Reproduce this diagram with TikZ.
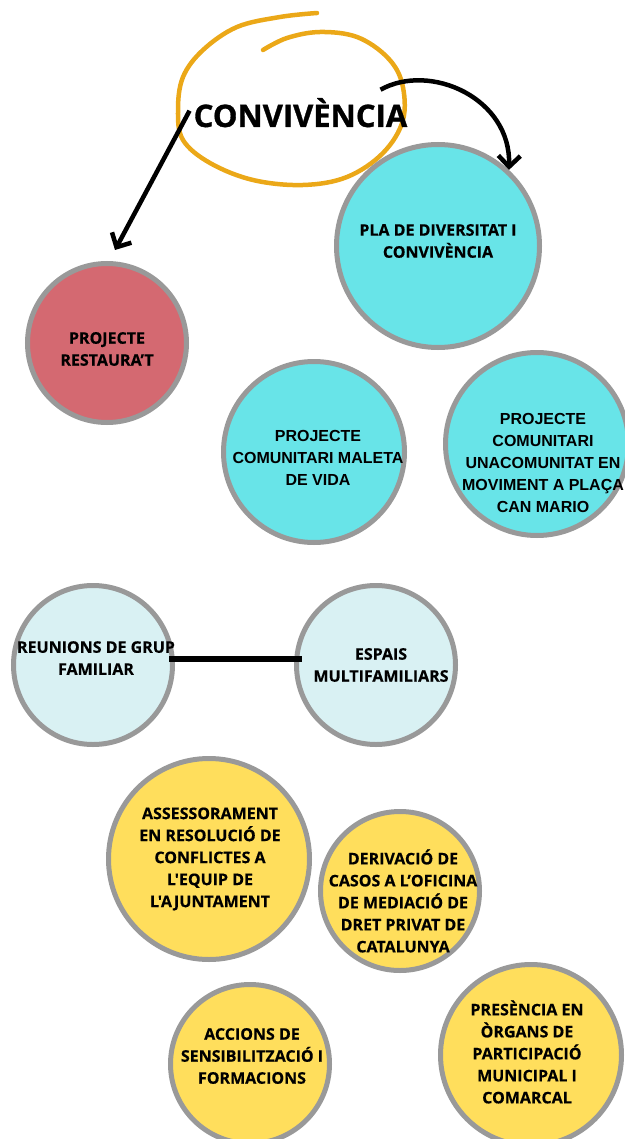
\documentclass[tikz,border=0pt]{standalone}
\usepackage{fontspec}
\setmainfont{Open Sans}[Ligatures=TeXOff]
\newfontfamily\arialb{Liberation Sans}
\usetikzlibrary{arrows.meta}
\definecolor{pinkc}{HTML}{D46971}
\definecolor{cyanc}{HTML}{68E4E8}
\definecolor{lightc}{HTML}{D9F1F3}
\definecolor{yellowc}{HTML}{FFDE5C}
\definecolor{grayc}{HTML}{999999}
\definecolor{orangec}{HTML}{EBA818}
\begin{document}
\begin{tikzpicture}[x=1pt,y=-1pt,
  circ/.style={circle,draw=grayc,line width=5pt,inner sep=0pt,minimum size=#1},
  lbl/.style={font=\fontsize{16}{22}\selectfont\bfseries\addfontfeature{FakeBold=0.4},align=center,inner sep=0pt},
  albl/.style={font=\arialb\fontsize{16}{22}\selectfont\bfseries,align=center,inner sep=0pt},
  arr/.style={line width=4.5pt,-{Straight Barb[length=11pt,width=22pt]}}]
\useasboundingbox (0,0) rectangle (624,1139);
% title ellipse
\draw[orangec,line width=4.5pt,line cap=round] plot[smooth,tension=0.6] coordinates {(317,13) (280,17) (237,27) (203,50) (183,77) (178,110) (183,140) (210,163) (253,180) (303,185) (347,177) (383,153) (403,120) (402,83) (387,57) (357,37) (320,32) (287,38) (263,50)};
\node[font=\fontsize{31}{36}\selectfont\bfseries\addfontfeature{FakeBold=1},inner sep=0pt,anchor=base] (title) at (300.5,127) {CONVIVÈNCIA};
% circles
\node[circ=159pt,fill=pinkc] (resta) at (107,343) {};
\node[circ=203pt,fill=cyanc] (pla) at (438,246) {};
\node[circ=181pt,fill=cyanc] (maleta) at (314,452) {};
\node[circ=183pt,fill=cyanc] (una) at (537,444) {};
\node[circ=159pt,fill=lightc] (reun) at (93,665) {};
\node[circ=159pt,fill=lightc] (espais) at (376,665) {};
\node[circ=201pt,fill=yellowc] (asse) at (209,859) {};
\node[circ=159pt,fill=yellowc] (deriv) at (400,891) {};
\node[circ=159pt,fill=yellowc] (acc) at (250,1064) {};
\node[circ=181pt,fill=yellowc] (pres) at (531,1055) {};
% labels
\node[lbl] (trest) at (107,349) {PROJECTE\\RESTAURA’T};
\node[lbl] (tpla) at (438,241) {PLA DE DIVERSITAT I\\CONVIVÈNCIA};
\node[albl] (tmal) at (318,458) {PROJECTE\\COMUNITARI MALETA\\DE VIDA};
\node[albl] (tuna) at (543,463) {PROJECTE\\COMUNITARI\\UNACOMUNITAT EN\\MOVIMENT A PLAÇA\\CAN MARIO};
\node[lbl] (treun) at (96,658) {REUNIONS DE GRUP\\FAMILIAR};
\node[lbl] (tesp) at (381,665) {ESPAIS\\MULTIFAMILIARS};
\node[lbl] (tasse) at (210,859) {ASSESSORAMENT\\EN RESOLUCIÓ DE\\CONFLICTES A\\L'EQUIP DE\\L'AJUNTAMENT};
\node[lbl] (tder) at (403,901) {DERIVACIÓ DE\\CASOS A L’OFICINA\\DE MEDIACIÓ DE\\DRET PRIVAT DE\\CATALUNYA};
\node[lbl] (tacc) at (252,1056) {ACCIONS DE\\SENSIBILITZACIÓ I\\FORMACIONS};
\node[lbl] (tpres) at (527,1052) {PRESÈNCIA EN\\ÒRGANS DE\\PARTICIPACIÓ\\MUNICIPAL I\\COMARCAL};
% connectors
\draw[line width=6pt] ([shift={(-6pt,6pt)}]reun.east) -- ([shift={(8pt,6pt)}]espais.west);
\draw[arr] ([shift={(-4pt,2pt)}]title.west) -- ([shift={(8pt,11pt)}]resta.north);
\draw[arr] ([shift={(80pt,23pt)}]title.center) .. controls (430,62) and (511,98) .. (pla.47);
\end{tikzpicture}
\end{document}
